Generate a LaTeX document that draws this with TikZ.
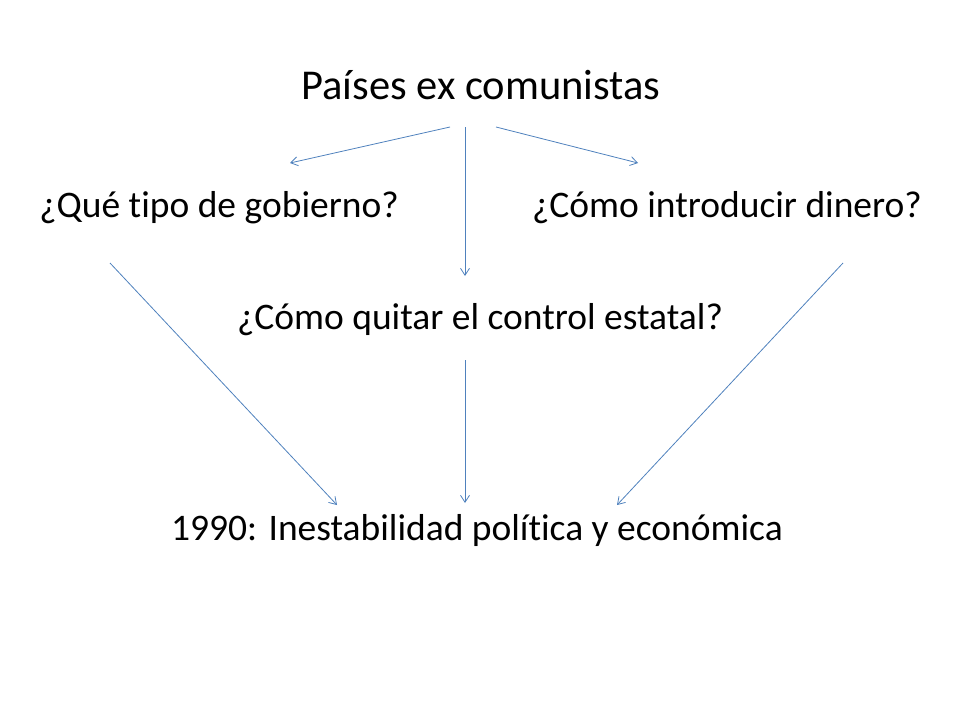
\documentclass[tikz,border=0pt]{standalone}
\usepackage{fontspec}
\setmainfont[RawFeature=-liga]{Carlito}
\usetikzlibrary{arrows.meta}
\begin{document}
\begin{tikzpicture}[x=1pt,y=-1pt,
  lbl/.style={inner sep=0pt,font=\fontsize{37.5}{42}\selectfont},
  conn/.style={draw={rgb,255:red,79;green,129;blue,189},line width=0.8pt,-{Straight Barb[length=7pt,width=9pt]}}]
\useasboundingbox (0,0) rectangle (960,720);
\node[lbl,font=\fontsize{42.5}{48}\selectfont] (t) at (481,85) {Países ex comunistas};
\node[lbl] (l) at (219,208) {¿Qué tipo de gobierno?};
\node[lbl] (r) at (727,208) {¿Cómo introducir dinero?};
\node[lbl] (m) at (480,320) {¿Cómo quitar el control estatal?};
\node[lbl] (b) at (477,530) {1990: Inestabilidad política y económica};
\coordinate (a1s) at (450,127); \coordinate (a1e) at (290,163);
\coordinate (a2s) at (465,127); \coordinate (a2e) at (465,276);
\coordinate (a3s) at (496,127); \coordinate (a3e) at (638,163);
\coordinate (b1s) at (110,263); \coordinate (b1e) at (337,505);
\coordinate (b2s) at (465,360); \coordinate (b2e) at (465,503);
\coordinate (b3s) at (843,263); \coordinate (b3e) at (617,505);
\draw[conn] (a1s) -- (a1e);
\draw[conn] (a2s) -- (a2e);
\draw[conn] (a3s) -- (a3e);
\draw[conn] (b1s) -- (b1e);
\draw[conn] (b2s) -- (b2e);
\draw[conn] (b3s) -- (b3e);
\end{tikzpicture}
\end{document}
